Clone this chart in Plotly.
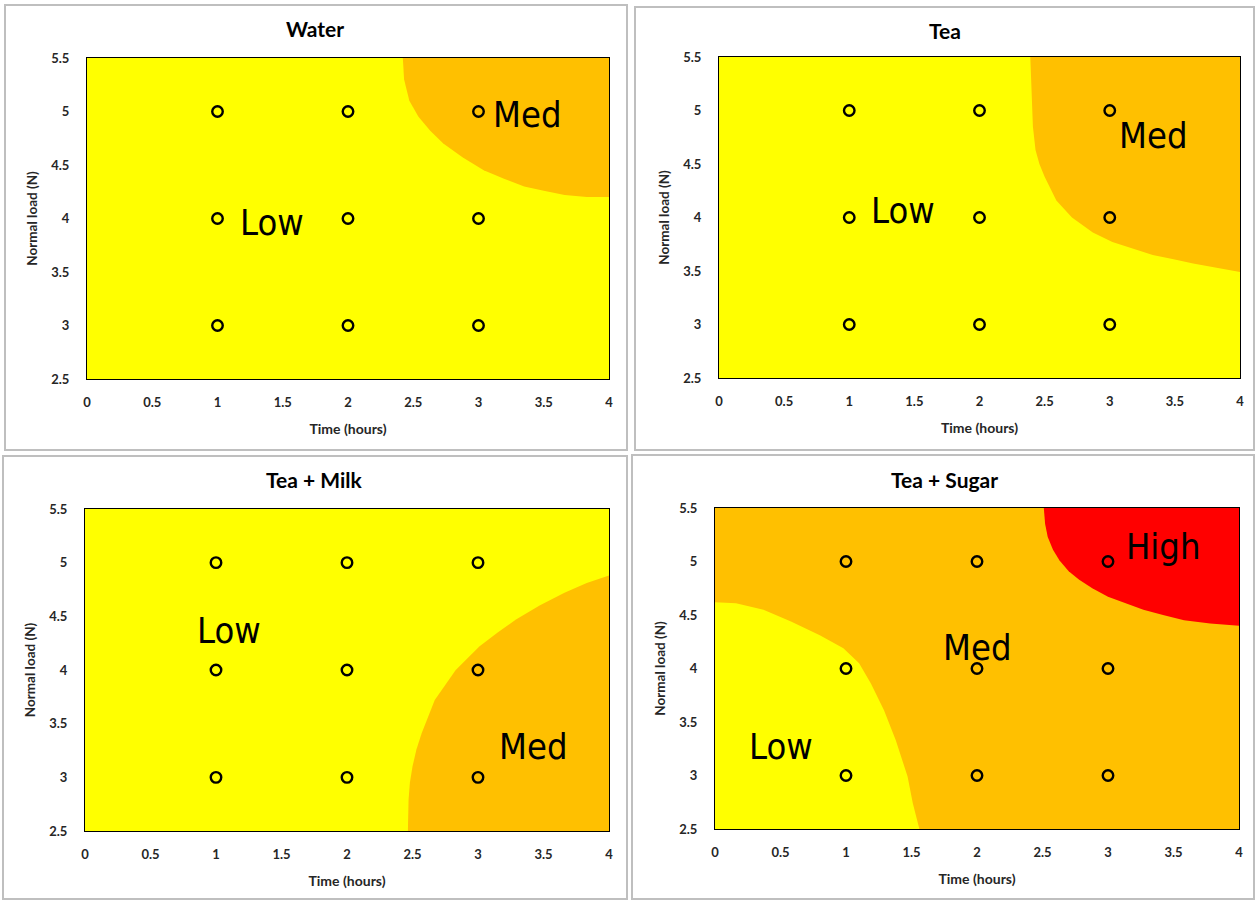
import plotly.graph_objects as go

W, H = 1256, 901

# ---------------- data ----------------
TITLES = ["Water", "Tea", "Tea + Milk", "Tea + Sugar"]
TIME_H = [1, 1, 1, 2, 2, 2, 3, 3, 3]
LOAD_N = [3, 4, 5, 3, 4, 5, 3, 4, 5]
X_TICKS = [0, 0.5, 1, 1.5, 2, 2.5, 3, 3.5, 4]
Y_TICKS = [2.5, 3, 3.5, 4, 4.5, 5, 5.5]
X_RANGE = [0, 4]
Y_RANGE = [2.5, 5.5]

# Region boundaries (time, load)
WATER_MED_X = [2.42, 2.43, 2.47, 2.54, 2.63, 2.73, 2.88, 3.04, 3.20, 3.35, 3.50, 3.66, 3.83, 4.0]
WATER_MED_Y = [5.50, 5.30, 5.10, 4.95, 4.82, 4.70, 4.57, 4.45, 4.37, 4.30, 4.26, 4.22, 4.20, 4.20]

TEA_MED_X = [2.39, 2.40, 2.41, 2.43, 2.46, 2.50, 2.59, 2.71, 2.87, 3.02, 3.17, 3.33, 3.49, 3.64, 3.82, 4.0]
TEA_MED_Y = [5.50, 5.10, 4.85, 4.63, 4.50, 4.38, 4.16, 4.00, 3.86, 3.77, 3.71, 3.65, 3.61, 3.57, 3.53, 3.49]

MILK_MED_X = [2.465, 2.47, 2.48, 2.50, 2.53, 2.57, 2.67, 2.83, 3.01, 3.15, 3.29, 3.47, 3.66, 3.83, 4.0]
MILK_MED_Y = [2.50, 2.79, 2.95, 3.10, 3.26, 3.41, 3.72, 4.00, 4.22, 4.35, 4.47, 4.60, 4.72, 4.81, 4.88]

SUGAR_LOW_X = [0.0, 0.16, 0.37, 0.58, 0.80, 0.98, 1.10, 1.19, 1.29, 1.38, 1.47, 1.51, 1.56]
SUGAR_LOW_Y = [4.62, 4.61, 4.55, 4.44, 4.31, 4.19, 4.05, 3.86, 3.61, 3.33, 2.99, 2.74, 2.50]

SUGAR_HIGH_X = [2.51, 2.52, 2.54, 2.58, 2.63, 2.70, 2.78, 2.88, 3.00, 3.13, 3.27, 3.42, 3.58, 3.78, 4.0]
SUGAR_HIGH_Y = [5.50, 5.35, 5.23, 5.11, 5.01, 4.91, 4.83, 4.75, 4.67, 4.61, 4.55, 4.50, 4.45, 4.42, 4.40]

# region label positions (time, load)
LABELS = [
    [("Low", 1.42, 3.96), ("Med", 3.37, 4.97)],
    [("Low", 1.41, 4.07), ("Med", 3.33, 4.77)],
    [("Low", 1.10, 4.37), ("Med", 3.42, 3.29)],
    [("Low", 0.50, 3.27), ("Med", 2.00, 4.20), ("High", 3.42, 5.14)],
]

YELLOW = "#FFFF00"
ORANGE = "#FFC000"
RED = "#FF0000"

# ---------------- layout geometry (pixels) ----------------
PLOT_PX = [  # left, right, top, bottom
    (87, 609, 58, 379),
    (719, 1240, 57, 378),
    (85, 609, 509, 831),
    (715, 1239, 508, 829),
]
BOX_PX = [
    (5, 627, 5, 450),
    (635, 1254, 7, 450),
    (3, 627, 456, 899),
    (632, 1254, 455, 899),
]
TITLE_PX = [(315, 28), (945, 31), (314, 479), (944, 479)]

def px(x):
    return x / W

def py(y):
    return 1 - y / H

FONT = "Lato, Carlito, Calibri, 'Open Sans', sans-serif"
BIG = "'Liberation Sans Narrow', 'Arial Narrow', 'DejaVu Sans Condensed', sans-serif"

fig = go.Figure()

def poly(xs, ys, corner_x, corner_y, color, ax):
    fig.add_trace(go.Scatter(
        x=list(xs) + [corner_x], y=list(ys) + [corner_y],
        fill="toself", fillcolor=color, mode="lines",
        line=dict(width=0, color=color), hoverinfo="skip",
        showlegend=False, xaxis=ax[0], yaxis=ax[1]))

def base(color, ax):
    fig.add_trace(go.Scatter(
        x=[X_RANGE[0], X_RANGE[1], X_RANGE[1], X_RANGE[0]],
        y=[Y_RANGE[0], Y_RANGE[0], Y_RANGE[1], Y_RANGE[1]],
        fill="toself", fillcolor=color, mode="lines",
        line=dict(width=0, color=color), hoverinfo="skip",
        showlegend=False, xaxis=ax[0], yaxis=ax[1]))

axes = [("x", "y"), ("x2", "y2"), ("x3", "y3"), ("x4", "y4")]

# Water
base(YELLOW, axes[0])
poly(WATER_MED_X, WATER_MED_Y, X_RANGE[1], Y_RANGE[1], ORANGE, axes[0])
# Tea
base(YELLOW, axes[1])
poly(TEA_MED_X, TEA_MED_Y, X_RANGE[1], Y_RANGE[1], ORANGE, axes[1])
# Tea + Milk
base(YELLOW, axes[2])
poly(MILK_MED_X, MILK_MED_Y, X_RANGE[1], Y_RANGE[0], ORANGE, axes[2])
# Tea + Sugar
base(ORANGE, axes[3])
poly(SUGAR_LOW_X, SUGAR_LOW_Y, X_RANGE[0], Y_RANGE[0], YELLOW, axes[3])
poly(SUGAR_HIGH_X, SUGAR_HIGH_Y, X_RANGE[1], Y_RANGE[1], RED, axes[3])

for ax in axes:
    fig.add_trace(go.Scatter(
        x=TIME_H, y=LOAD_N, mode="markers",
        marker=dict(symbol="circle-open", size=10.5, color="#000000",
                    line=dict(width=2.4, color="#000000")),
        showlegend=False, hoverinfo="x+y", xaxis=ax[0], yaxis=ax[1]))

annotations = []
shapes = []
layout = dict(
    width=W, height=H,
    margin=dict(l=0, r=0, t=0, b=0, pad=0, autoexpand=False),
    paper_bgcolor="white", plot_bgcolor="white", showlegend=False,
)

for i, (l, r, t, b) in enumerate(PLOT_PX):
    n = "" if i == 0 else str(i + 1)
    layout["xaxis" + n] = dict(
        domain=[px(l), px(r)], range=X_RANGE, anchor="y" + n, automargin=False,
        tickvals=X_TICKS, ticktext=[f"{v:g}" for v in X_TICKS],
        showgrid=False, zeroline=False, showline=True, mirror=True,
        linecolor="#000000", linewidth=1,
        ticks="outside", ticklen=11, tickcolor="rgba(0,0,0,0)",
        tickfont=dict(family=FONT, size=13, color="#262626", weight="bold"),
        title=dict(text="Time (hours)", standoff=15,
                   font=dict(family=FONT, size=14, color="#262626", weight="bold")),
    )
    layout["yaxis" + n] = dict(
        domain=[py(b), py(t)], range=Y_RANGE, anchor="x" + n, automargin=False,
        tickvals=Y_TICKS, ticktext=[f"{v:g}" for v in Y_TICKS],
        showgrid=False, zeroline=False, showline=True, mirror=True,
        linecolor="#000000", linewidth=1,
        ticks="outside", ticklen=14, tickcolor="rgba(0,0,0,0)",
        tickfont=dict(family=FONT, size=13, color="#262626", weight="bold"),
        title=dict(text="Normal load (N)", standoff=10,
                   font=dict(family=FONT, size=13.5, color="#262626", weight="bold")),
    )
    tx, ty = TITLE_PX[i]
    annotations.append(dict(
        text=TITLES[i], x=px(tx), y=py(ty), xref="paper", yref="paper",
        showarrow=False, xanchor="center", yanchor="middle",
        font=dict(family=FONT, size=21, color="#000000", weight="bold")))
    for (txt, lx, ly) in LABELS[i]:
        annotations.append(dict(
            text=txt, x=lx, y=ly, xref="x" + n, yref="y" + n,
            showarrow=False, xanchor="center", yanchor="middle",
            font=dict(family=BIG, size=36, color="#000000")))
    bl, br, bt, bb = BOX_PX[i]
    shapes.append(dict(type="rect", xref="paper", yref="paper",
                       x0=px(bl), x1=px(br), y0=py(bb), y1=py(bt),
                       line=dict(color="#BFBFBF", width=2), layer="below"))

layout["annotations"] = annotations
layout["shapes"] = shapes
fig.update_layout(**layout)

fig.write_html(
    "out.html",
    config={"displayModeBar": False},
    post_script="document.documentElement.style.margin='0';document.documentElement.style.padding='0';document.body.style.margin='0';document.body.style.padding='0';",
)
